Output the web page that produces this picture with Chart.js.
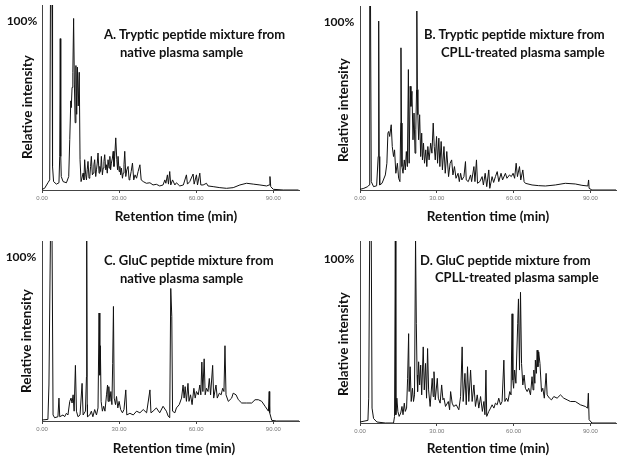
<!DOCTYPE html>
<html>
<head>
<meta charset="utf-8">
<script src="https://cdn.jsdelivr.net/npm/chart.js@4/dist/chart.umd.min.js"></script>
<style>
  body { margin: 0; background: #fff; }
  #wrap { position: relative; width: 624px; height: 462px; overflow: hidden; font-family: Lato, 'Open Sans', sans-serif; }
  canvas { position: absolute; }
  .txt { position: absolute; font-weight: bold; color: #111; white-space: nowrap; line-height: 1; }
  .mid { transform: translate(-50%, -50%); }
  .left { transform: translateY(-50%); }
  .rot { transform: translate(-50%, -50%) rotate(-90deg); }
  .cap { font-size: 13px; }
  .pct { font-size: 12px; }
  .axt { font-size: 13.5px; }
</style>
</head>
<body>
<div id="wrap">
  <canvas id="chartA" width="312" height="231" style="left:0;top:0"></canvas>
  <canvas id="chartB" width="312" height="231" style="left:312px;top:0"></canvas>
  <canvas id="chartC" width="312" height="231" style="left:0;top:231px"></canvas>
  <canvas id="chartD" width="312" height="231" style="left:312px;top:231px"></canvas>

  <!-- A -->
  <div class="txt pct mid" style="left:22px;top:21px">100%</div>
  <div class="txt cap left" style="left:104px;top:34px">A. Tryptic peptide mixture from</div>
  <div class="txt cap left" style="left:120px;top:52px">native plasma sample</div>
  <div class="txt axt rot" style="left:28px;top:107px">Relative intensity</div>
  <div class="txt axt mid" style="left:176px;top:217px">Retention time (min)</div>
  <!-- B -->
  <div class="txt pct mid" style="left:339px;top:22px">100%</div>
  <div class="txt cap left" style="left:424px;top:34px">B. Tryptic peptide mixture from</div>
  <div class="txt cap left" style="left:441px;top:52px">CPLL-treated plasma sample</div>
  <div class="txt axt rot" style="left:344px;top:110px">Relative intensity</div>
  <div class="txt axt mid" style="left:488px;top:217px">Retention time (min)</div>
  <!-- C -->
  <div class="txt pct mid" style="left:21px;top:257px">100%</div>
  <div class="txt cap left" style="left:104px;top:260px">C. GluC peptide mixture from</div>
  <div class="txt cap left" style="left:120px;top:278px">native plasma sample</div>
  <div class="txt axt rot" style="left:27px;top:341px">Relative intensity</div>
  <div class="txt axt mid" style="left:174px;top:449px">Retention time (min)</div>
  <!-- D -->
  <div class="txt pct mid" style="left:339px;top:259px">100%</div>
  <div class="txt cap left" style="left:420px;top:260px">D. GluC peptide mixture from</div>
  <div class="txt cap left" style="left:435px;top:277px">CPLL-treated plasma sample</div>
  <div class="txt axt rot" style="left:344px;top:344px">Relative intensity</div>
  <div class="txt axt mid" style="left:488px;top:449px">Retention time (min)</div>
</div>

<script>
// -----Tick labels (min)
var xTicks = [0, 30, 60, 90]

// -----A. Tryptic / native plasma
var timeA = [0, 1, 2.3, 3.0, 3.3, 3.9, 4.1, 4.5, 5.6, 6.6, 6.9, 7.1, 7.3, 7.5, 8.2, 9.5, 10.4, 10.8, 11.2, 11.4,
  11.7, 12.0, 12.3, 12.6, 12.9, 13.2, 13.5, 13.8, 14.1, 14.5, 14.8, 15.2, 16, 16.3, 16.6, 17.0, 17.3, 17.6, 17.9, 18.3,
  18.6, 18.9, 19.2, 19.6, 19.9, 20.2, 20.5, 20.9, 21.2, 21.5, 21.8, 22.2, 22.5, 22.8, 23.1, 23.5, 23.8, 24.1, 24.4, 24.8,
  25.1, 25.4, 25.7, 26.1, 26.4, 26.7, 27, 27.4, 27.7, 28.0, 28.3, 28.7, 29.1, 29.4, 29.6, 30.0, 30.3, 30.6, 30.9, 31.3,
  31.6, 31.9, 32.2, 32.6, 33.0, 33.5, 33.9, 34.2, 34.7, 35.2, 35.7, 36.2, 36.8, 37.4, 38.1, 38.6, 39.4, 40.6, 42, 43.2,
  44.5, 45.8, 47.1, 47.8, 48.2, 48.8, 49.2, 49.7, 50.1, 50.8, 51.7, 52.3, 53.6, 55, 56.2, 56.6, 57.5, 58.8, 59.2, 60.1,
  60.5, 61.4, 61.8, 62.7, 64, 64.6, 66.6, 69.2, 71.8, 74.4, 77, 79.6, 82.2, 84.8, 87.4, 88.4, 88.7, 89, 90, 93.9, 99.8]
var intensA = [0.4, 1, 4.3, 6, 115, 115, 14, 5, 3.5, 4.3, 20, 90, 20, 8, 5, 4.3, 8, 30, 53, 49,
  61, 70, 102, 63, 40, 74, 45, 73, 50, 70, 18, 5, 10, 6, 18, 9, 6, 12, 17, 7,
  8, 14, 20, 9, 10, 15, 18, 8, 12, 16, 22, 10, 14, 11, 20, 9, 13, 17, 21, 12,
  15, 10, 18, 13, 20, 12, 16, 19, 23, 14, 20, 31, 18, 12, 20, 11, 14, 9, 13, 7,
  10, 15, 23, 8, 12, 14, 6, 7, 11, 16, 6, 9, 7, 11, 15, 6, 5, 4, 4.3, 3,
  3.4, 2.4, 3, 6, 4, 9, 3.5, 11, 3, 6, 3, 4.3, 2.4, 3, 9, 3.5, 5, 9.5, 3.5, 9,
  3, 10, 3, 3, 4, 2.4, 2, 1.4, 1, 1.4, 3, 4, 3.5, 3, 2.4, 3, 8, 2, 0.4, 0, 0]

// -----B. Tryptic / CPLL-treated plasma
var timeB = [0, 1.5, 3.0, 3.6, 3.8, 4.1, 4.4, 5.3, 6.5, 7.1, 7.3, 7.5, 7.7, 8.6, 9.9, 10.5, 10.9, 11.2, 11.6, 12.0,
  12.2, 12.6, 13.1, 13.5, 14.0, 14.6, 15.1, 15.6, 15.9, 16.0, 16.2, 16.4, 16.8, 17.3, 17.7, 18.1, 18.5, 18.9, 19.2, 19.6,
  19.9, 20.3, 20.7, 21.1, 21.5, 21.8, 22.1, 22.2, 22.4, 22.6, 22.9, 23.3, 23.7, 24.1, 24.4, 24.8, 25.2, 25.7, 26.1, 26.5,
  27, 27.6, 28.1, 28.6, 29, 29.4, 29.9, 30.3, 30.8, 31.2, 31.7, 32.2, 32.8, 33.3, 33.9, 34.6, 35.2, 35.8, 36.3, 36.9,
  37.5, 38.3, 38.8, 39.3, 39.8, 40.6, 41.2, 41.5, 42.3, 43.2, 43.6, 44.5, 44.9, 45.5, 45.9, 46.8, 47.7, 48.2, 48.9, 49.5,
  50.3, 50.7, 51.6, 52.2, 52.9, 53.6, 54.2, 55.1, 55.7, 56.8, 57.4, 58.4, 59.1, 59.8, 60.4, 61, 61.5, 62.3, 62.8, 63.6,
  64.1, 64.6, 67.2, 69.8, 72.4, 76.3, 80.2, 84.1, 86.7, 89, 89.3, 89.5, 90.6, 100]
var intensB = [0.4, 1, 2, 3, 115, 115, 5, 2, 2.5, 20, 101, 20, 3, 4, 9, 16, 34, 35, 32, 37,
  39, 26, 20, 24, 10, 16, 7, 5, 40, 85, 40, 14, 10, 18, 12, 23, 14, 72, 16, 62,
  50, 59, 30, 46, 22, 36, 60, 107, 60, 45, 30, 45, 20, 34, 18, 28, 16, 24, 14, 26,
  18, 28, 22, 40, 26, 18, 32, 16, 31, 14, 29, 12, 26, 10, 23, 8, 16, 18, 9, 14,
  7, 10, 5, 10, 6, 8, 17, 6, 5, 9, 5, 14, 5, 18, 4, 5, 8, 3, 10, 2,
  12, 1, 8, 4.5, 8, 11, 5, 10, 6, 10, 7, 9, 8, 10, 7, 16, 8, 14, 6, 12,
  5, 4, 3, 2.6, 2.4, 3, 4, 3.6, 2.8, 2.4, 6, 1, 0, 0]

// -----C. GluC / native plasma
var timeC = [0, 2.3, 2.7, 3.3, 3.9, 4.3, 4.9, 6.2, 6.6, 6.9, 8.2, 8.8, 9.5, 10.1, 10.8, 11.3, 11.7, 12.1, 12.5, 13.0,
  13.4, 14, 14.8, 15.6, 16, 16.9, 17.3, 17.4, 17.6, 17.7, 18.6, 19.2, 19.8, 20.5, 21.2, 21.8, 22.2, 22.5, 22.7, 23,
  23.5, 24, 24.5, 25.1, 25.5, 25.7, 26, 26.4, 26.8, 27.2, 27.5, 27.8, 28.1, 28.6, 29, 29.5, 30, 30.6, 31.3, 31.9,
  32.6, 33, 34.2, 35.5, 36.8, 38.1, 39.4, 40.7, 42, 42.4, 43.2, 44.5, 45.8, 47.1, 48.4, 49.1, 49.7, 50.1, 50.5, 50.8,
  51.7, 52.3, 53.4, 54.3, 54.9, 55.3, 55.7, 56.2, 56.8, 57.2, 57.8, 58.4, 59.1, 59.6, 60.1, 60.8, 61.4, 61.8, 62.2, 62.6,
  63.1, 63.5, 64, 64.6, 65.1, 65.6, 66.4, 66.8, 67.7, 68.2, 69, 69.7, 70.3, 70.8, 71.2, 71.6, 72.5, 73.8, 74.4, 75.5,
  76.4, 77.7, 79.6, 81.6, 82.9, 84.2, 85.5, 86.8, 88.1, 88.4, 88.6, 89.4, 91.3, 100]
var intensC = [0.6, 1, 22, 115, 115, 3.7, 2, 2.6, 14, 2.6, 3.7, 2.6, 4.7, 3.7, 12, 14, 11, 16, 6, 34,
  6, 2.6, 3.7, 23, 3.7, 6, 27, 115, 10, 2.6, 3.7, 6, 2.6, 7, 3.7, 8, 66, 28, 46, 12,
  6, 9, 6, 16, 22, 12, 21, 12, 18, 10, 35, 70, 14, 10, 15, 8, 12, 7, 5, 7,
  19, 3.7, 4.7, 3.7, 6, 5, 7, 5, 19, 5, 6, 8, 5, 9, 6, 3, 2, 81, 64, 6,
  5, 8, 10, 14, 22, 14, 21, 12, 23, 12, 16, 10, 20, 14, 18, 16, 22, 16, 36, 18,
  38, 16, 20, 18, 26, 16, 34, 14, 22, 14, 17, 16, 20, 18, 46, 16, 12, 14, 17, 16,
  13, 11, 11, 11, 13, 13, 12, 9, 6, 18, 5, 0.4, 0, 0]

// -----D. GluC / CPLL-treated plasma
var timeD = [0, 3.1, 3.4, 3.8, 4.4, 4.7, 5.3, 6.6, 9.9, 13.1, 13.5, 13.8, 14.0, 14.4, 14.8, 15.3, 15.9, 16.4, 16.8, 17.3,
  17.7, 18.2, 18.6, 19.0, 19.2, 19.6, 20, 20.5, 20.9, 21.3, 21.7, 22.0, 22.3, 22.5, 22.9, 23.3, 23.7, 24.1, 24.7, 25.1,
  25.6, 26, 26.4, 26.8, 27.4, 28.2, 28.6, 28.9, 29.4, 30.2, 30.6, 31.3, 31.9, 32.4, 32.8, 33.4, 34.5, 35, 35.4, 36,
  36.6, 37.6, 38.6, 39.3, 39.9, 40.3, 41, 41.5, 42, 42.5, 43.2, 43.8, 44.5, 45.1, 45.8, 46.4, 47.1, 47.8, 48.4, 48.8,
  49.2, 49.5, 50.3, 51, 51.6, 52.3, 52.9, 53.6, 54.2, 54.9, 55.5, 56.2, 56.6, 57.2, 57.8, 58.5, 59, 59.4, 59.7, 60,
  60.4, 60.9, 61.6, 61.9, 62.3, 62.7, 63.1, 63.6, 64.1, 64.6, 65.3, 65.9, 66.6, 67.2, 67.6, 67.9, 68.3, 68.5, 68.9, 69.2,
  69.5, 69.8, 70.3, 70.9, 71.4, 72, 72.7, 73.1, 74, 74.8, 75.7, 77, 78.3, 79.6, 80.9, 82.2, 84.1, 86.1, 88, 88.9,
  89.2, 89.5, 90.6, 100]
var intensD = [0.6, 1.6, 15, 115, 115, 9, 2.7, 0.6, 0, 0, 4, 115, 5, 15, 7, 4, 6, 10, 5, 12,
  7, 9, 27, 54, 19, 34, 13, 21, 13, 17, 112, 60, 29, 19, 37, 23, 35, 17, 46, 20,
  36, 15, 45, 20, 10, 27, 16, 31, 14, 27, 15, 12, 23, 14, 15, 10, 13, 8, 19, 12,
  10, 11, 8, 16, 46, 13, 30, 11, 34, 13, 32, 13, 23, 10, 17, 9, 16, 7, 13, 5,
  32, 4, 7, 9, 11, 9, 12, 11, 15, 11, 13, 38, 13, 15, 13, 19, 17, 66, 26, 21,
  32, 24, 60, 75, 32, 79, 36, 23, 29, 21, 19, 21, 17, 28, 20, 32, 24, 38, 30, 44,
  34, 43, 36, 19, 21, 15, 30, 17, 15, 14, 16, 15, 17, 15, 14, 13, 13, 11, 10, 9,
  18, 2, 0, 0]

// -----Draw one chromatogram
function drawPanel(id, times, values, pad) {
  var points = times.map(function(t, i) { return {x: t, y: values[i]} })
  return new Chart(document.getElementById(id), {
    type: 'line',
    data: {
      datasets: [{
        data: points,
        borderColor: '#111',
        borderWidth: 1,
        pointRadius: 0,
        tension: 0
      }]
    },
    options: {
      responsive: false,
      animation: false,
      devicePixelRatio: 1,
      layout: { padding: pad },
      plugins: {
        legend: { display: false },
        tooltip: { enabled: false }
      },
      scales: {
        x: {
          type: 'linear',
          min: 0,
          max: 100,
          afterBuildTicks: function(axis) {
            axis.ticks = xTicks.map(function(v) { return {value: v} })
          },
          afterFit: function(axis) { axis.height = 20 },
          ticks: {
            color: '#777',
            padding: 2,
            maxRotation: 0,
            font: { size: 6, family: 'Liberation Sans' },
            callback: function(v) { return Number(v).toFixed(2) }
          },
          grid: { drawOnChartArea: false, tickLength: 3, color: '#444' },
          border: { color: '#444', width: 1 }
        },
        y: {
          min: 0,
          max: 110,
          ticks: { display: false },
          grid: { display: false },
          border: { color: '#444', width: 1 },
          afterFit: function(axis) { axis.width = 0 }
        }
      }
    }
  })
}

drawPanel('chartA', timeA, intensA, {left: 42, right: 13, top: 5, bottom: 21})
drawPanel('chartB', timeB, intensB, {left: 48, right: 8, top: 6, bottom: 21})
drawPanel('chartC', timeC, intensC, {left: 42, right: 13, top: 10, bottom: 21})
drawPanel('chartD', timeD, intensD, {left: 48, right: 8, top: 10, bottom: 19})
</script>
</body>
</html>
